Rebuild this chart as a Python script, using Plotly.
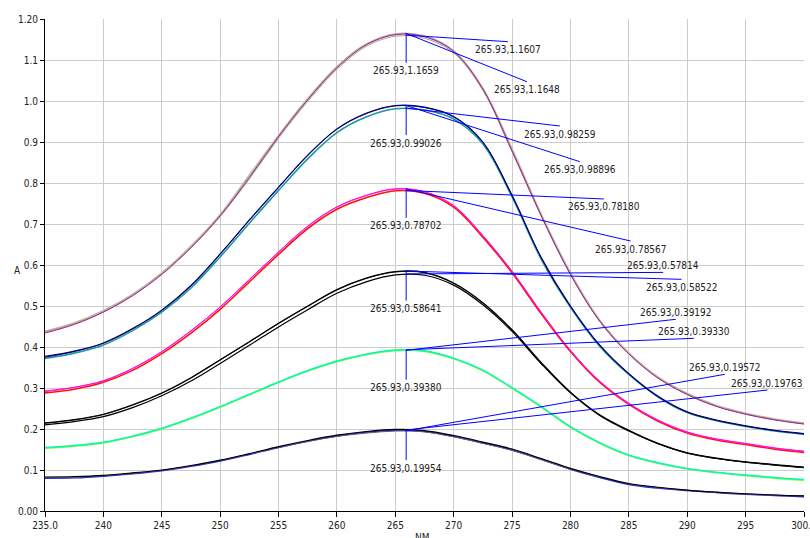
import plotly.graph_objects as go

# Wavelength grid (nm)
wavelength = [235, 237.5, 240, 242.5, 245, 247.5, 250, 252.5, 255, 257.5, 260, 262.5, 265, 267.5,
              270, 272.5, 275, 277.5, 280, 282.5, 285, 287.5, 290, 292.5, 295, 297.5, 300]

# Group 1 (~1.16)
g1_tan = [0.438, 0.458, 0.488, 0.528, 0.580, 0.645, 0.722, 0.818, 0.915, 1.005, 1.083, 1.138, 1.163, 1.158,
          1.122, 1.030, 0.882, 0.722, 0.580, 0.465, 0.385, 0.326, 0.286, 0.257, 0.238, 0.224, 0.214]
g1_grey = [0.436, 0.456, 0.486, 0.526, 0.578, 0.642, 0.718, 0.810, 0.909, 0.999, 1.077, 1.133, 1.158, 1.153,
           1.117, 1.026, 0.876, 0.719, 0.577, 0.463, 0.383, 0.325, 0.285, 0.256, 0.237, 0.223, 0.213]
g1_purple = [0.434, 0.455, 0.485, 0.525, 0.577, 0.642, 0.720, 0.813, 0.913, 1.003, 1.081, 1.137, 1.162, 1.157,
             1.121, 1.029, 0.878, 0.720, 0.577, 0.463, 0.383, 0.324, 0.284, 0.255, 0.236, 0.222, 0.212]
# Group 2 (~0.99)
g2_navy = [0.377, 0.390, 0.410, 0.445, 0.490, 0.550, 0.627, 0.710, 0.790, 0.868, 0.932, 0.970, 0.989, 0.985,
           0.962, 0.900, 0.770, 0.618, 0.500, 0.405, 0.335, 0.280, 0.242, 0.222, 0.208, 0.197, 0.189]
g2_teal = [0.372, 0.385, 0.405, 0.440, 0.485, 0.544, 0.620, 0.702, 0.782, 0.859, 0.923, 0.961, 0.981, 0.978,
           0.956, 0.895, 0.766, 0.614, 0.497, 0.402, 0.333, 0.278, 0.240, 0.220, 0.206, 0.195, 0.187]
g2_dark = [0.375, 0.389, 0.409, 0.444, 0.489, 0.549, 0.626, 0.709, 0.789, 0.867, 0.931, 0.969, 0.988, 0.984,
           0.961, 0.899, 0.769, 0.617, 0.499, 0.404, 0.334, 0.279, 0.241, 0.221, 0.207, 0.196, 0.188]
# Group 3 (~0.79)
g3_magenta = [0.293, 0.302, 0.318, 0.348, 0.389, 0.440, 0.498, 0.565, 0.632, 0.695, 0.742, 0.770, 0.786, 0.779,
              0.745, 0.672, 0.585, 0.485, 0.392, 0.317, 0.263, 0.222, 0.193, 0.176, 0.165, 0.154, 0.146]
g3_red = [0.288, 0.297, 0.314, 0.343, 0.384, 0.434, 0.492, 0.559, 0.626, 0.689, 0.736, 0.764, 0.781, 0.775,
          0.741, 0.668, 0.581, 0.481, 0.389, 0.314, 0.260, 0.219, 0.190, 0.173, 0.162, 0.151, 0.143]
g3_pink = [0.291, 0.301, 0.317, 0.347, 0.388, 0.439, 0.497, 0.564, 0.631, 0.694, 0.741, 0.769, 0.785, 0.778,
           0.744, 0.671, 0.584, 0.484, 0.391, 0.316, 0.262, 0.221, 0.192, 0.175, 0.164, 0.153, 0.145]
# Group 4 (~0.58)
g4_black1 = [0.215, 0.223, 0.236, 0.259, 0.288, 0.325, 0.369, 0.413, 0.458, 0.500, 0.540, 0.568, 0.584, 0.582,
             0.556, 0.508, 0.442, 0.362, 0.290, 0.235, 0.197, 0.165, 0.142, 0.129, 0.120, 0.113, 0.107]
g4_black2 = [0.214, 0.222, 0.235, 0.258, 0.287, 0.324, 0.368, 0.412, 0.457, 0.499, 0.539, 0.567, 0.583, 0.581,
             0.555, 0.507, 0.441, 0.361, 0.289, 0.234, 0.196, 0.164, 0.141, 0.128, 0.119, 0.112, 0.106]
g4_black3 = [0.210, 0.218, 0.230, 0.252, 0.281, 0.317, 0.360, 0.404, 0.449, 0.491, 0.531, 0.559, 0.576, 0.575,
             0.551, 0.503, 0.438, 0.359, 0.288, 0.233, 0.195, 0.164, 0.141, 0.128, 0.119, 0.112, 0.106]
# Group 5 (~0.39)
g5_green = [0.155, 0.160, 0.168, 0.183, 0.202, 0.227, 0.255, 0.285, 0.315, 0.343, 0.366, 0.383, 0.393, 0.391,
            0.373, 0.344, 0.301, 0.255, 0.206, 0.167, 0.137, 0.118, 0.104, 0.095, 0.088, 0.082, 0.077]
g5_cyan = [0.154, 0.159, 0.167, 0.182, 0.201, 0.226, 0.254, 0.284, 0.314, 0.342, 0.365, 0.382, 0.392, 0.390,
           0.372, 0.343, 0.300, 0.254, 0.205, 0.166, 0.136, 0.117, 0.103, 0.094, 0.087, 0.081, 0.076]
g5_lime = [0.153, 0.158, 0.166, 0.181, 0.200, 0.225, 0.253, 0.283, 0.313, 0.341, 0.364, 0.381, 0.391, 0.389,
           0.371, 0.342, 0.299, 0.253, 0.204, 0.165, 0.135, 0.116, 0.102, 0.093, 0.086, 0.080, 0.075]
# Group 6 (~0.20)
g6_black = [0.083, 0.084, 0.087, 0.093, 0.100, 0.111, 0.124, 0.140, 0.157, 0.172, 0.185, 0.194, 0.199, 0.196,
            0.184, 0.168, 0.151, 0.128, 0.104, 0.084, 0.067, 0.058, 0.051, 0.046, 0.042, 0.039, 0.037]
g6_blue = [0.080, 0.081, 0.085, 0.091, 0.098, 0.109, 0.122, 0.138, 0.155, 0.170, 0.183, 0.192, 0.197, 0.194,
           0.182, 0.166, 0.149, 0.126, 0.102, 0.082, 0.065, 0.056, 0.050, 0.045, 0.041, 0.038, 0.035]
g6_grey = [0.081, 0.082, 0.086, 0.092, 0.099, 0.110, 0.123, 0.139, 0.155, 0.170, 0.182, 0.190, 0.195, 0.193,
           0.181, 0.165, 0.148, 0.125, 0.102, 0.083, 0.066, 0.057, 0.050, 0.045, 0.041, 0.038, 0.036]

# Peak-pick labels: (peak value, label end wavelength, label end absorbance, placement)
peak_x = 265.93
peak_labels = [
    (1.1659, 265.93, 1.093, "below"), (1.1607, 274.64, 1.1446, "below"), (1.1648, 276.27, 1.047, "below"),
    (0.99026, 265.93, 0.917, "below"), (0.98259, 279.09, 0.939, "below"), (0.98896, 280.80, 0.852, "below"),
    (0.78702, 265.93, 0.715, "below"), (0.78180, 282.86, 0.761, "below"), (0.78567, 285.15, 0.6585, "below"),
    (0.58641, 265.93, 0.513, "below"), (0.57814, 287.94, 0.582, "above"), (0.58522, 289.51, 0.565, "below"),
    (0.39380, 265.93, 0.320, "below"), (0.39192, 289.02, 0.4676, "above"), (0.39330, 290.57, 0.4212, "above"),
    (0.19954, 265.93, 0.1244, "below"), (0.19572, 293.22, 0.3334, "above"), (0.19763, 296.87, 0.2951, "above"),
]

x_ticks = [235, 240, 245, 250, 255, 260, 265, 270, 275, 280, 285, 290, 295, 300]
x_ticktext = ["235.0", "240", "245", "250", "255", "260", "265", "270", "275", "280", "285", "290", "295", "300.0"]
y_ticks = [0.0, 0.1, 0.2, 0.3, 0.4, 0.5, 0.6, 0.7, 0.8, 0.9, 1.0, 1.1, 1.2]
y_ticktext = ["0.00", "0.1", "0.2", "0.3", "0.4", "0.5", "0.6", "0.7", "0.8", "0.9", "1.0", "1.1", "1.20"]

series = [
    (g1_tan, "#bab39c", 2.0), (g1_grey, "#a8a090", 1.0), (g1_purple, "#a020a0", 1.0),
    (g2_teal, "#1a9a9a", 1.6), (g2_dark, "#300050", 1.0), (g2_navy, "#000080", 1.1),
    (g3_red, "#ff1010", 1.6), (g3_pink, "#ff3090", 1.0), (g3_magenta, "#ff00ff", 1.0),
    (g4_black3, "#000000", 1.2), (g4_black2, "#202020", 1.0), (g4_black1, "#000000", 1.2),
    (g5_lime, "#80ff20", 1.4), (g5_green, "#20ff60", 1.2), (g5_cyan, "#00f0f0", 1.0),
    (g6_blue, "#2020ff", 1.6), (g6_grey, "#606060", 1.0), (g6_black, "#000000", 1.1),
]

FONT = "Liberation Sans Narrow, Arial Narrow, DejaVu Sans Condensed, Liberation Sans, Arial"
TXT = "#222222"

fig = go.Figure()
for ys, color, w in series:
    fig.add_trace(go.Scatter(x=wavelength, y=ys, mode="lines",
                             line=dict(color=color, width=w, shape="spline", smoothing=1.0),
                             showlegend=False, hoverinfo="skip"))

shapes = []
annotations = []
for peak, ex, ey, place in peak_labels:
    shapes.append(dict(type="line", xref="x", yref="y", x0=peak_x, y0=peak, x1=ex, y1=ey,
                       line=dict(color="#0000ff", width=1)))
    label = f"{peak_x:.2f},{peak:.4f}" if peak >= 1 else f"{peak_x:.2f},{peak:.5f}"
    annotations.append(dict(x=ex, y=ey, xref="x", yref="y", showarrow=False, text=label,
                            yshift=-8 if place == "below" else 7,
                            font=dict(family=FONT, size=10, color=TXT)))

annotations.append(dict(x=0, y=0.5, xref="paper", yref="paper", text="A", showarrow=False,
                        xshift=-33, yshift=-5, font=dict(family=FONT, size=10, color=TXT)))
annotations.append(dict(x=0.498, y=0, xref="paper", yref="paper", text="NM", showarrow=False,
                        yanchor="top", yshift=-19, font=dict(family=FONT, size=10, color=TXT)))

fig.update_layout(
    width=810, height=538,
    margin=dict(l=45, r=6, t=19, b=27),
    plot_bgcolor="white", paper_bgcolor="white",
    shapes=shapes, annotations=annotations,
    xaxis=dict(range=[235, 300], tickvals=x_ticks, ticktext=x_ticktext, automargin=False,
               showgrid=True, gridcolor="#cccccc", gridwidth=1,
               showline=True, linecolor="#000000", linewidth=1,
               ticks="outside", ticklen=5, tickcolor="#000000", ticklabeloverflow="allow",
               tickfont=dict(family=FONT, size=10, color=TXT), zeroline=False),
    yaxis=dict(range=[0, 1.2], tickvals=y_ticks, ticktext=y_ticktext, automargin=False,
               showgrid=True, gridcolor="#cccccc", gridwidth=1,
               showline=True, linecolor="#000000", linewidth=1,
               ticks="outside", ticklen=4, tickcolor="#000000", ticklabeloverflow="allow",
               tickfont=dict(family=FONT, size=10, color=TXT), zeroline=False),
)

fig.write_html("out.html")
